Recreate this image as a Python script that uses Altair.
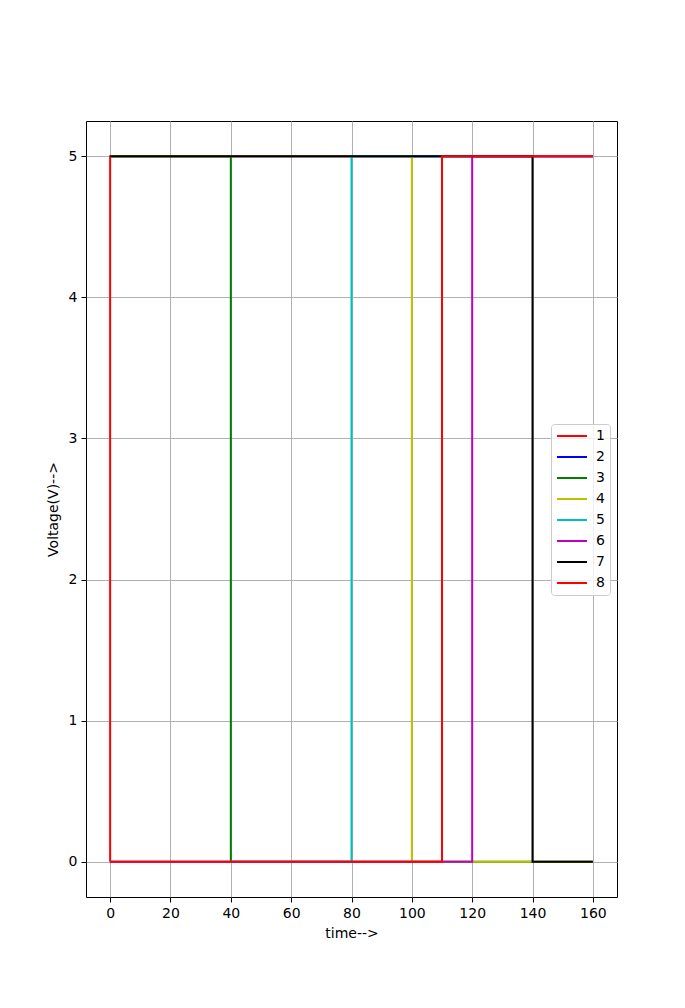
import altair as alt
import pandas as pd

series_names = ["1", "2", "3", "4", "5", "6", "7", "8"]
series_colors = ["#ff0000", "#0000ff", "#008000", "#bfbf00", "#00bfbf", "#bf00bf", "#000000", "#ff0000"]

s1_t = [0, 0, 160]
s1_v = [0, 5, 5]
s2_t = [0, 160]
s2_v = [5, 5]
s3_t = [0, 40, 40, 160]
s3_v = [5, 5, 0, 0]
s4_t = [0, 100, 100, 160]
s4_v = [5, 5, 0, 0]
s5_t = [0, 80, 80, 160]
s5_v = [0, 0, 5, 5]
s6_t = [0, 120, 120, 160]
s6_v = [0, 0, 5, 5]
s7_t = [0, 140, 140, 160]
s7_v = [5, 5, 0, 0]
s8_t = [0, 110, 110, 160]
s8_v = [0, 0, 5, 5]

x_ticks = [0, 20, 40, 60, 80, 100, 120, 140, 160]
y_ticks = [0, 1, 2, 3, 4, 5]

all_t = [s1_t, s2_t, s3_t, s4_t, s5_t, s6_t, s7_t, s8_t]
all_v = [s1_v, s2_v, s3_v, s4_v, s5_v, s6_v, s7_v, s8_v]

rows = []
for name, ts, vs in zip(series_names, all_t, all_v):
    for i, (t, v) in enumerate(zip(ts, vs)):
        rows.append({"series": name, "time": t, "volt": v, "idx": i})
df = pd.DataFrame(rows)

FONT = "DejaVu Sans"

chart = (
    alt.Chart(df)
    .mark_line(strokeWidth=2, clip=True)
    .encode(
        x=alt.X(
            "time:Q",
            scale=alt.Scale(domain=[-8, 168], nice=False, zero=False),
            axis=alt.Axis(values=x_ticks, title="time-->", format="d", titlePadding=6),
        ),
        y=alt.Y(
            "volt:Q",
            scale=alt.Scale(domain=[-0.25, 5.25], nice=False, zero=False),
            axis=alt.Axis(values=y_ticks, title="Voltage(V)-->", format="d", titlePadding=8),
        ),
        color=alt.Color(
            "series:N",
            scale=alt.Scale(domain=series_names, range=series_colors),
            legend=alt.Legend(
                title=None,
                orient="none",
                legendX=465,
                legendY=303,
                symbolType="M-1.2,0H4.8",
                symbolSize=100,
                symbolStrokeWidth=2,
                labelFontSize=14,
                labelFont=FONT,
                labelColor="black",
                rowPadding=7,
                padding=5,
                labelOffset=26,
                fillColor="rgba(255,255,255,0.8)",
                strokeColor="#cccccc",
                cornerRadius=3,
            ),
        ),
        order="idx:Q",
    )
    .properties(
        width=531,
        height=776,
        autosize=alt.AutoSizeParams(type="none"),
        padding={"left": 86, "top": 121, "right": 68, "bottom": 111},
    )
    .configure_view(stroke="black", strokeWidth=1)
    .configure_axis(
        domain=False,
        grid=True,
        gridColor="#b0b0b0",
        gridWidth=1,
        ticks=True,
        tickSize=5,
        tickColor="black",
        labelFont=FONT,
        labelFontSize=14,
        labelColor="black",
        labelPadding=4,
        titleFont=FONT,
        titleFontSize=14,
        titleFontWeight="normal",
        titleColor="black",
    )
)

chart.save("out.html", embed_options={"renderer": "svg", "actions": False})
